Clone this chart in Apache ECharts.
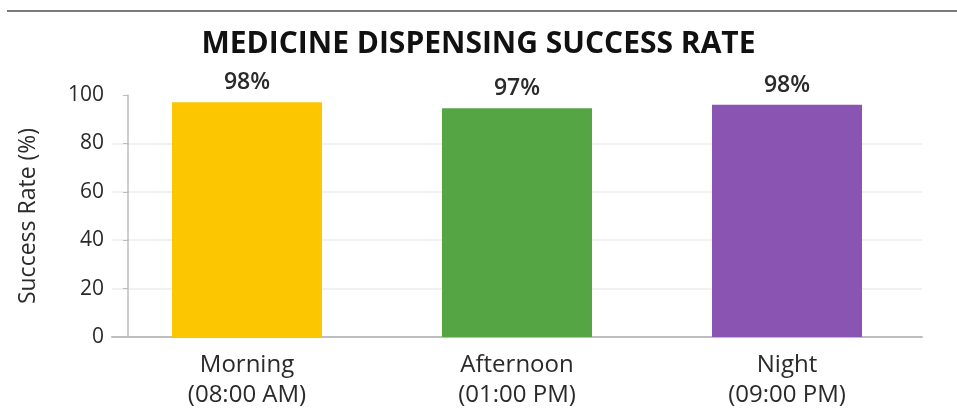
<!DOCTYPE html>
<html lang="en">
<head>
  <meta charset="UTF-8">
  <title>Medicine Dispensing Success Rate</title>
  <script src="https://cdn.jsdelivr.net/npm/echarts@6/dist/echarts.min.js"></script>
  <style>
    * { margin: 0; padding: 0; }
    body { background: #fff; }
    #chart { width: 957px; height: 409px; }
  </style>
</head>
<body>
  <div id="chart"></div>
<script>
  // data
  var slots = ['Morning\n(08:00 AM)', 'Afternoon\n(01:00 PM)', 'Night\n(09:00 PM)'];
  var rates = [97, 94.5, 96];            // bar heights as drawn
  var rateLabels = ['98%', '97%', '98%']; // printed values
  var barColors = ['#fcc700', '#55a545', '#8a54b3'];

  var myChart = echarts.init(document.getElementById('chart'));

  var font = '"Open Sans", "Noto Sans", sans-serif';

  var option = {
    animation: false,
    title: {
      text: 'MEDICINE DISPENSING SUCCESS RATE',
      left: 'center',
      top: 24,
      textStyle: { fontFamily: font, fontSize: 30, fontWeight: 'bold', color: '#111' }
    },
    graphic: [{
      type: 'line',
      shape: { x1: 7, y1: 11, x2: 957, y2: 11 },
      style: { stroke: '#7a7a7a', lineWidth: 2 }
    }],
    grid: { left: 112, right: 35, top: 95, bottom: 72, outerBoundsMode: 'none', containLabel: false },
    xAxis: {
      type: 'category',
      data: slots,
      axisTick: { show: false },
      axisLine: { lineStyle: { color: '#bdbdbd', width: 2 } },
      axisLabel: { fontFamily: font, fontSize: 24, color: '#2a2a2a', lineHeight: 30, margin: 13 }
    },
    yAxis: {
      type: 'value',
      min: 0,
      max: 100,
      interval: 20,
      offset: -16,
      name: 'Success Rate (%)',
      nameLocation: 'middle',
      nameGap: 88,
      nameTextStyle: { fontFamily: font, fontSize: 23, color: '#2a2a2a' },
      axisLine: { show: true, lineStyle: { color: '#bdbdbd', width: 1.5 } },
      axisTick: { show: true, length: 5, lineStyle: { color: '#bdbdbd' } },
      axisLabel: { fontFamily: font, fontSize: 21, color: '#2a2a2a', margin: 24 },
      splitLine: { show: true, showMaxLine: false, lineStyle: { color: '#ececec', width: 1.5 } }
    },
    series: [{
      type: 'bar',
      barWidth: 150,
      data: rates.map(function (v, i) {
        return { value: v, itemStyle: { color: barColors[i] } };
      }),
      label: {
        show: true,
        position: 'top',
        distance: 8,
        formatter: function (p) { return rateLabels[p.dataIndex]; },
        fontFamily: font,
        fontSize: 23,
        fontWeight: 600,
        color: '#2a2a2a'
      }
    }]
  };

  myChart.setOption(option);
</script>
</body>
</html>
